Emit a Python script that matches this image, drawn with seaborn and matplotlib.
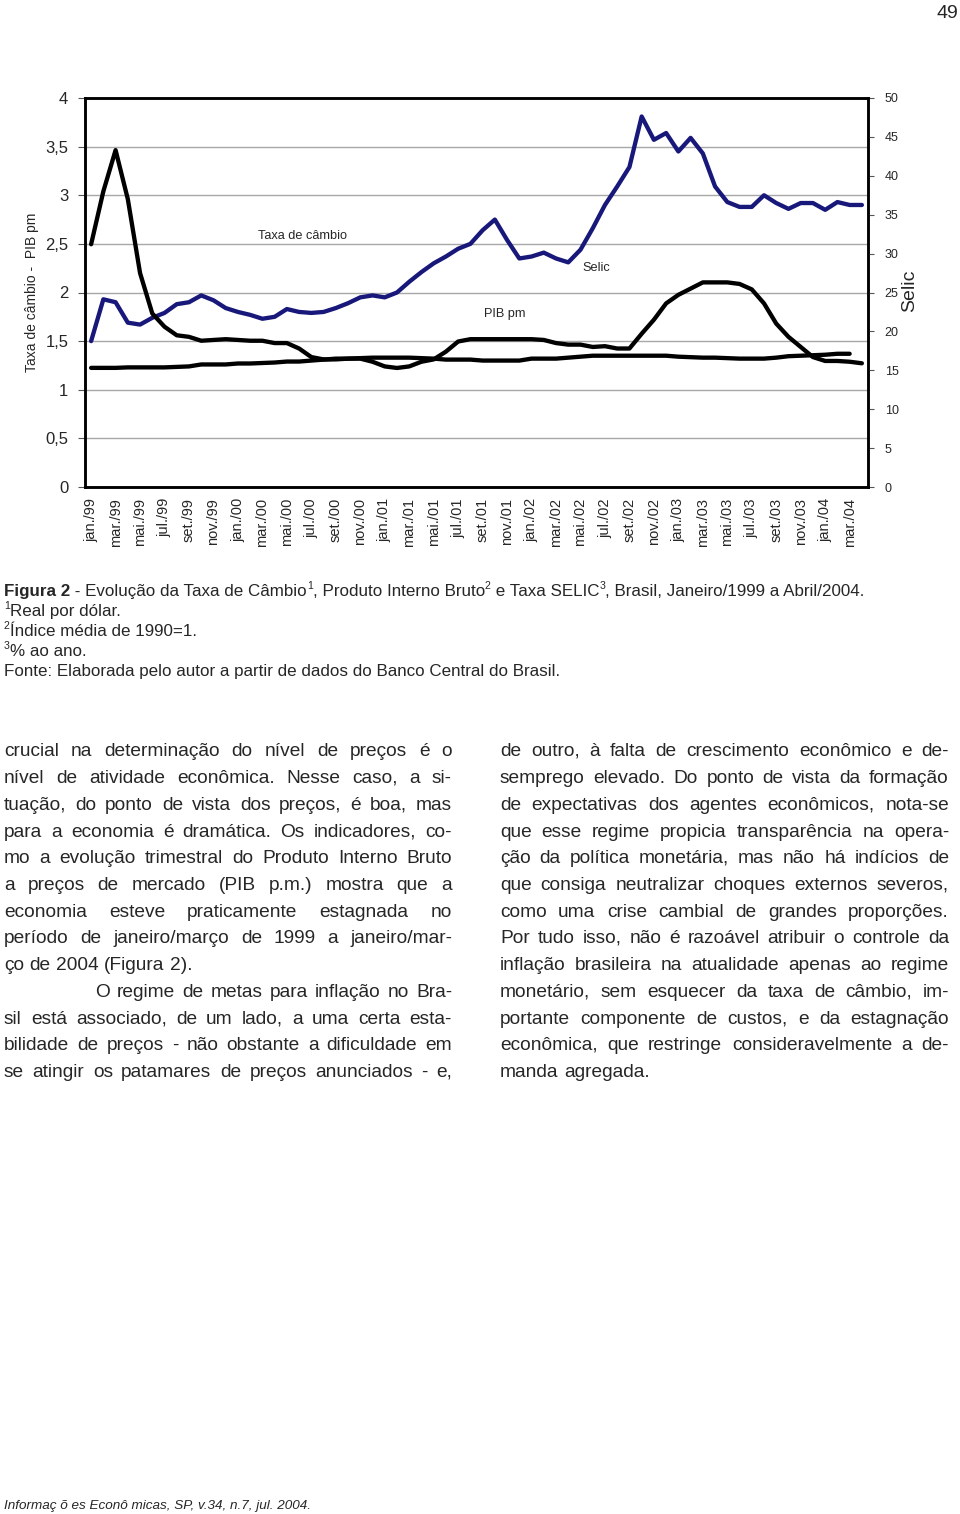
import numpy as np
import pandas as pd
import matplotlib
matplotlib.use("Agg")
import matplotlib.pyplot as plt
import seaborn as sns
from matplotlib.ticker import MultipleLocator, FuncFormatter
from matplotlib import font_manager as fm
from matplotlib.font_manager import FontProperties

# ---------------- data ----------------
tick_labels = ["jan./99", "mar./99", "mai./99", "jul./99", "set./99", "nov./99",
               "jan./00", "mar./00", "mai./00", "jul./00", "set./00", "nov./00",
               "jan./01", "mar./01", "mai./01", "jul./01", "set./01", "nov./01",
               "jan./02", "mar./02", "mai./02", "jul./02", "set./02", "nov./02",
               "jan./03", "mar./03", "mai./03", "jul./03", "set./03", "nov./03",
               "jan./04", "mar./04"]

# Taxa de câmbio (R$/US$), monthly jan/99 - abr/04 (left axis)
cambio = [1.50, 1.93, 1.90, 1.69, 1.67, 1.74, 1.79, 1.88, 1.90, 1.97, 1.92, 1.84,
          1.80, 1.77, 1.73, 1.75, 1.83, 1.80, 1.79, 1.80, 1.84, 1.89, 1.95, 1.97,
          1.95, 2.00, 2.11, 2.21, 2.30, 2.37, 2.45, 2.50, 2.64, 2.75, 2.54, 2.35,
          2.37, 2.41, 2.35, 2.31, 2.44, 2.66, 2.90, 3.09, 3.29, 3.81, 3.57, 3.64,
          3.45, 3.59, 3.43, 3.09, 2.93, 2.88, 2.88, 3.00, 2.92, 2.86, 2.92, 2.92,
          2.85, 2.93, 2.90, 2.90]

# PIB pm (índice média de 1990 = 1) (left axis)
pib = [1.225, 1.225, 1.225, 1.23, 1.23, 1.23, 1.23, 1.235, 1.24, 1.26, 1.26, 1.26,
       1.27, 1.27, 1.275, 1.28, 1.29, 1.29, 1.30, 1.31, 1.32, 1.32, 1.325, 1.33,
       1.33, 1.33, 1.33, 1.325, 1.32, 1.31, 1.31, 1.31, 1.30, 1.30, 1.30, 1.30,
       1.32, 1.32, 1.32, 1.33, 1.34, 1.35, 1.35, 1.35, 1.35, 1.35, 1.35, 1.35,
       1.34, 1.335, 1.33, 1.33, 1.325, 1.32, 1.32, 1.32, 1.33, 1.345, 1.35, 1.355,
       1.36, 1.37, 1.37, np.nan]

# Selic (% a.a.) (right axis)
selic = [31.2, 38.0, 43.3, 37.0, 27.5, 22.3, 20.6, 19.5, 19.3, 18.8, 18.9, 19.0,
         18.9, 18.8, 18.8, 18.5, 18.5, 17.8, 16.7, 16.4, 16.4, 16.5, 16.5, 16.1,
         15.5, 15.3, 15.5, 16.1, 16.4, 17.4, 18.7, 19.0, 19.0, 19.0, 19.0, 19.0,
         19.0, 18.9, 18.5, 18.3, 18.3, 18.0, 18.1, 17.8, 17.8, 19.7, 21.5, 23.6,
         24.7, 25.5, 26.3, 26.3, 26.3, 26.1, 25.4, 23.6, 21.0, 19.3, 18.0, 16.7,
         16.2, 16.2, 16.1, 15.9]

month_idx = list(range(len(cambio)))

caption_lines = [
    [("Figura 2", "bold"), (" - Evolução da Taxa de Câmbio", "n"), ("1", "sup"),
     (", Produto Interno Bruto", "n"), ("2", "sup"), (" e Taxa SELIC", "n"), ("3", "sup"),
     (", Brasil, Janeiro/1999 a Abril/2004.", "n")],
    [("1", "sup"), ("Real por dólar.", "n")],
    [("2", "sup"), ("Índice média de 1990=1.", "n")],
    [("3", "sup"), ("% ao ano.", "n")],
    [("Fonte: Elaborada pelo autor a partir de dados do Banco Central do Brasil.", "n")],
]

left_col = [
    "crucial na determinação do nível de preços é o",
    "nível de atividade econômica. Nesse caso, a si-",
    "tuação, do ponto de vista dos preços, é boa, mas",
    "para a economia é dramática. Os indicadores, co-",
    "mo a evolução trimestral do Produto Interno Bruto",
    "a preços de mercado (PIB p.m.) mostra que a",
    "economia esteve praticamente estagnada no",
    "período de janeiro/março de 1999 a janeiro/mar-",
    "ço de 2004 (Figura 2).",
    "O regime de metas para inflação no Bra-",
    "sil está associado, de um lado, a uma certa esta-",
    "bilidade de preços - não obstante a dificuldade em",
    "se atingir os patamares de preços anunciados - e,",
]
left_last = [False] * 8 + [True] + [False] * 4
right_col = [
    "de outro, à falta de crescimento econômico e de-",
    "semprego elevado. Do ponto de vista da formação",
    "de expectativas dos agentes econômicos, nota-se",
    "que esse regime propicia transparência na opera-",
    "ção da política monetária, mas não há indícios de",
    "que consiga neutralizar choques externos severos,",
    "como uma crise cambial de grandes proporções.",
    "Por tudo isso, não é razoável atribuir o controle da",
    "inflação brasileira na atualidade apenas ao regime",
    "monetário, sem esquecer da taxa de câmbio, im-",
    "portante componente de custos, e da estagnação",
    "econômica, que restringe consideravelmente a de-",
    "manda agregada.",
]
right_last = [False] * 12 + [True]

# ---------------- style ----------------
sns.set_style("white")
plt.rcParams["font.family"] = ["Liberation Sans", "DejaVu Sans"]

W, H = 960, 1514
fig = plt.figure(figsize=(W / 100, H / 100), dpi=100)


def fx(x):
    return x / W


def fy(y):
    return 1 - y / H


navy = "#18187a"
ax = fig.add_axes([fx(85), fy(487), 783 / W, 389 / H])
df = pd.DataFrame({"mes": month_idx, "cambio": cambio, "pib": pib, "selic": selic})
lw = 3.1
sns.lineplot(data=df, x="mes", y="cambio", ax=ax, color=navy, linewidth=lw,
             solid_joinstyle="round", solid_capstyle="round")
sns.lineplot(data=df.dropna(), x="mes", y="pib", ax=ax, color="black", linewidth=lw,
             solid_joinstyle="round", solid_capstyle="round")
ax2 = ax.twinx()
sns.lineplot(data=df, x="mes", y="selic", ax=ax2, color="black", linewidth=lw,
             solid_joinstyle="round", solid_capstyle="round")

ax.set_xlim(-0.5, len(month_idx) - 0.5)
ax.set_ylim(0, 4)
ax2.set_ylim(0, 50)
ax.set_xlabel("")
ax.set_ylabel("")
ax2.set_ylabel("")

ax.set_xticks(month_idx[::2])
ax.set_xticklabels(tick_labels, rotation=90, fontsize=10.5)
ax.set_xticks(np.arange(-0.5, len(month_idx), 1), minor=True)
ax.tick_params(axis="x", which="major", length=0, pad=8)
ax.tick_params(axis="x", which="minor", direction="inout", length=7, width=0.8, color="#555555")

ax.yaxis.set_major_locator(MultipleLocator(0.5))
ax.yaxis.set_major_formatter(FuncFormatter(lambda v, p: f"{v:g}".replace(".", ",")))
ax.tick_params(axis="y", which="major", direction="out", length=5, width=0.8,
               labelsize=12, pad=7, color="#555555")
ax2.yaxis.set_major_locator(MultipleLocator(5))
ax2.tick_params(axis="y", which="major", direction="out", length=4, width=0.8,
                labelsize=9, pad=8, color="#555555")

ax.grid(axis="y", color="#a8a8a8", linewidth=1.0)
ax.grid(axis="x", visible=False)
ax.set_axisbelow(True)
for a in (ax, ax2):
    for s in a.spines.values():
        s.set_visible(True)
        s.set_color("black")
        s.set_linewidth(1.8)

ax.text(17.25, 2.58, "Taxa de câmbio", fontsize=9.2, ha="center", va="center")
ax.text(33.8, 1.78, "PIB pm", fontsize=9.2, ha="center", va="center")
ax.text(41.3, 2.25, "Selic", fontsize=9.2, ha="center", va="center")

fig.text(fx(32), fy(292), "Taxa de câmbio -  PIB pm", rotation=90, fontsize=10,
         ha="center", va="center")
fig.text(fx(910), fy(291), "Selic", rotation=90, fontsize=14, ha="center", va="center")

# page number
fig.text(fx(958), fy(18), "49", fontsize=14, ha="right", va="baseline")

# ---------------- text helpers ----------------
renderer = fig.canvas.get_renderer()

try:
    from matplotlib.backends.backend_agg import get_hinting_flag
except Exception:  # pragma: no cover
    get_hinting_flag = None


def measure(s, **kw):
    t = fig.text(0, 0, "I" + s + "I", **kw)
    w1 = t.get_window_extent(renderer).width
    t.set_text("II")
    w0 = t.get_window_extent(renderer).width
    t.remove()
    return w1 - w0


def baseline_y(s, yb, **kw):
    """Pixel y (from top) to pass so that the rasterised baseline lands on row round(yb)."""
    T = int(round(yb))
    B = T + 0.001
    try:
        prop = FontProperties(family=kw.get("family", None), size=kw.get("fontsize"),
                              weight=kw.get("fontweight", "normal"),
                              style=kw.get("style", "normal"))
        font = renderer._prepare_font(prop)
        font.set_text(s, 0, flags=get_hinting_flag())
        desc = font.get_descent()
        _, h = font.get_width_height()
        ymax = h - desc
        f = round(B + desc / 64.0) - (h // 64) + int(ymax / 64.0)
        return B - (f - T)
    except Exception:
        return yb


def put(x, yb, s, **kw):
    yy = baseline_y(s, yb, **kw)
    fig.text(fx(x), fy(yy), s, va="baseline", ha="left", **kw)


names = {f.name for f in fm.fontManager.ttflist}
cap_family = ["Liberation Sans Narrow", "Liberation Sans"] if "Liberation Sans Narrow" in names \
    else ["Liberation Sans", "DejaVu Sans"]


def run_kw(kind, size):
    if kind == "bold":
        return dict(fontsize=size, fontweight="bold", family=cap_family), 0
    if kind == "sup":
        return dict(fontsize=size * 0.62, family=cap_family), size * 0.55
    return dict(fontsize=size, family=cap_family), 0


def runs_width(runs, size):
    tot = 0
    for txt, kind in runs:
        kw, _ = run_kw(kind, size)
        tot += measure(txt, **kw)
    return tot


# fit caption first line to its width in the reference
base_size = 11.5
w_line1 = runs_width(caption_lines[0], base_size)
cap_size = base_size * (866 - 4) / w_line1

cap_base = [596, 616, 636, 656, 676]
for runs, yb in zip(caption_lines, cap_base):
    x = 4
    for txt, kind in runs:
        kw, dy = run_kw(kind, cap_size)
        put(x, yb - dy, txt, **kw)
        x += measure(txt, **kw)

body_size = 13.8


def draw_column(lines, last_flags, x0, x1, base0, step, indents):
    for k, line in enumerate(lines):
        yb = round(base0 + k * step)
        words = line.split()
        xs = x0 + indents.get(k, 0)
        widths = [measure(w, fontsize=body_size) for w in words]
        if last_flags[k] or len(words) == 1:
            gap = measure(" ", fontsize=body_size)
        else:
            gap = (x1 - xs - sum(widths)) / (len(words) - 1)
        x = xs
        for w, wd in zip(words, widths):
            put(x, yb, w, fontsize=body_size)
            x += wd + gap


draw_column(left_col, left_last, 4, 452, 756.5, 26.7, {9: 91})
draw_column(right_col, right_last, 500, 949, 756.5, 26.7, {})

fig.text(fx(4), fy(1509), "Informaç õ es Econô micas, SP, v.34, n.7, jul. 2004.",
         fontsize=9.7, style="italic", ha="left", va="baseline")

fig.savefig("out.png", dpi=100)
